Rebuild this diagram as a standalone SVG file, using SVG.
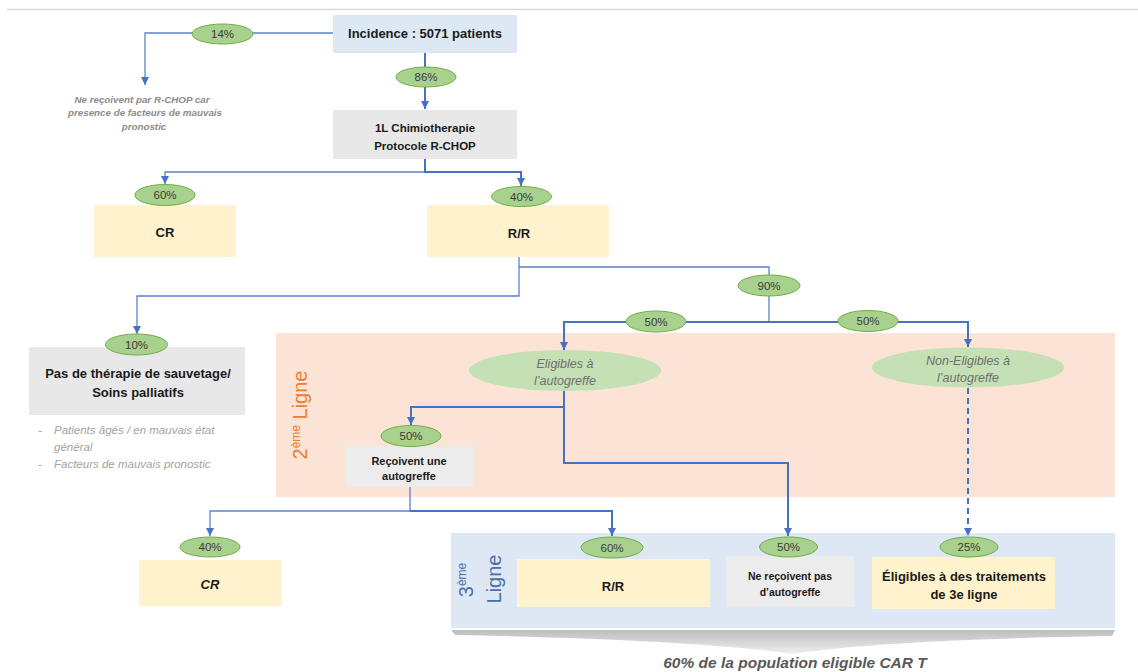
<svg xmlns="http://www.w3.org/2000/svg" width="1138" height="672" viewBox="0 0 1138 672">
<defs>
<style>
text{font-family:"Liberation Sans",Arial,sans-serif;}
.pct{fill:#a9d18e;stroke:#71ad47;stroke-width:1}
.pt{font-size:11.5px;fill:#3a3a3a;text-anchor:middle}
.b{font-weight:bold;fill:#1a1a1a;text-anchor:middle}
.yel{fill:#fff2cc}
.gry{fill:#e8e8e8}
.lg{fill:#c5e0b4}
.it{font-style:italic;fill:#6f6f6f;text-anchor:middle;font-size:12.5px}
.c{fill:none;stroke:#4472c4;stroke-width:2}
.c1{fill:none;stroke:#5b82cc;stroke-width:1.3}
</style>
<marker id="ar" viewBox="0 0 8 8" refX="8" refY="4" markerWidth="8" markerHeight="8" markerUnits="userSpaceOnUse" orient="auto">
<path d="M0,0 L8,4 L0,8 z" fill="#4472c4"/>
</marker>
<linearGradient id="sh" x1="0" y1="0" x2="0" y2="1">
<stop offset="0" stop-color="#bdbdbd"/>
<stop offset="1" stop-color="#efefef"/>
</linearGradient>
</defs>
<rect width="1138" height="672" fill="#ffffff"/>
<line x1="7" y1="9.5" x2="1138" y2="9.5" stroke="#d9d9d9" stroke-width="1.5"/>

<g id="region-2eme">
<rect x="276" y="333" width="839" height="164" fill="#fbe3d5"/>
<text transform="rotate(-90 307 415)" x="307" y="415" font-size="20" fill="#ed7d31" text-anchor="middle">2<tspan font-size="12" dy="-7">ème</tspan><tspan dy="7"> Ligne</tspan></text>
</g>
<g id="region-3eme">
<rect x="451" y="533" width="664" height="95" fill="#dde8f4"/>
<text transform="rotate(-90 473 580)" x="473" y="580" font-size="20" fill="#4a6ea9" text-anchor="middle">3<tspan font-size="12" dy="-7">ème</tspan></text>
<text transform="rotate(-90 501 579)" x="501" y="579" font-size="20" fill="#4a6ea9" text-anchor="middle">Ligne</text>
<path d="M451,630 L1115,630 L1112,636 Q880,640 792,654 Q700,640 455,635 Z" fill="url(#sh)"/>
<text x="795" y="668" font-size="15.5" font-weight="bold" font-style="italic" fill="#595959" text-anchor="middle">60% de la population eligible CAR T</text>
</g>

<g id="connectors">
<path class="c1" d="M333,33 H145 V85" marker-end="url(#ar)"/>
<path class="c" d="M425,53 V109" marker-end="url(#ar)"/>
<path class="c1" d="M425,159 V172 H165 V184" marker-end="url(#ar)"/>
<path class="c" d="M425,159 V172 H521 V186" marker-end="url(#ar)"/>
<path class="c1" d="M519,257 V296 H137 V334" marker-end="url(#ar)"/>
<path class="c1" d="M519,267 H769 V322"/>
<path class="c" d="M769,322 H564 V350" marker-end="url(#ar)"/>
<path class="c" d="M769,322 H968 V347" marker-end="url(#ar)"/>
<path class="c" d="M564,391 V407 H411 V425" marker-end="url(#ar)"/>
<path class="c" d="M564,407 V463 H788 V536" marker-end="url(#ar)"/>
<path class="c1" d="M410,487 V511 H210 V536" marker-end="url(#ar)"/>
<path class="c" d="M410,511 H612 V536" marker-end="url(#ar)"/>
<path class="c" d="M968,388 V536" stroke-dasharray="6,4" marker-end="url(#ar)"/>
</g>

<g id="incidence">
<rect x="333" y="15" width="184" height="38" fill="#dce8f4"/>
<text class="b" x="425" y="38" font-size="13">Incidence : 5071 patients</text>
</g>
<g id="p14">
<ellipse class="pct" cx="222.5" cy="34" rx="30.5" ry="10"/>
<text class="pt" x="222.5" y="38">14%</text>
</g>
<g id="note-no-rchop">
<text x="142" y="102.5" font-size="9.8" font-weight="bold" font-style="italic" fill="#8c8c8c" text-anchor="middle">Ne reçoivent par R-CHOP car</text>
<text x="145" y="116" font-size="9.8" font-weight="bold" font-style="italic" fill="#8c8c8c" text-anchor="middle">presence de facteurs de mauvais</text>
<text x="144" y="129.5" font-size="9.8" font-weight="bold" font-style="italic" fill="#8c8c8c" text-anchor="middle">pronostic</text>
</g>
<g id="p86">
<ellipse class="pct" cx="426" cy="77" rx="30" ry="10"/>
<text class="pt" x="426" y="81">86%</text>
</g>
<g id="chimio">
<rect class="gry" x="333" y="110" width="184" height="49"/>
<text class="b" x="425" y="132" font-size="11.5">1L Chimiotherapie</text>
<text class="b" x="425" y="150" font-size="11.5">Protocole R-CHOP</text>
</g>
<g id="cr1">
<rect class="yel" x="94" y="205" width="142" height="52"/>
<text class="b" x="165" y="236.5" font-size="13">CR</text>
</g>
<g id="p60a">
<ellipse class="pct" cx="165" cy="195" rx="30" ry="10.5"/>
<text class="pt" x="165" y="199">60%</text>
</g>
<g id="rr1">
<rect class="yel" x="427" y="205" width="182" height="52"/>
<text class="b" x="519" y="237.5" font-size="13">R/R</text>
</g>
<g id="p40a">
<ellipse class="pct" cx="521.5" cy="196.5" rx="30" ry="10"/>
<text class="pt" x="521.5" y="200.5">40%</text>
</g>
<g id="p90">
<ellipse class="pct" cx="769" cy="285.5" rx="31" ry="10.5"/>
<text class="pt" x="769" y="289.5">90%</text>
</g>
<g id="p50l">
<ellipse class="pct" cx="656" cy="321.5" rx="30" ry="10.5"/>
<text class="pt" x="656" y="325.5">50%</text>
</g>
<g id="p50r">
<ellipse class="pct" cx="868" cy="321" rx="30" ry="10.5"/>
<text class="pt" x="868" y="325">50%</text>
</g>
<g id="palliatif">
<rect class="gry" x="29" y="347" width="216" height="68"/>
<text class="b" x="138" y="377.5" font-size="13">Pas de thérapie de sauvetage/</text>
<text class="b" x="138" y="396.5" font-size="13">Soins palliatifs</text>
</g>
<g id="p10">
<ellipse class="pct" cx="136.5" cy="344.5" rx="31" ry="10.5"/>
<text class="pt" x="136.5" y="348.5">10%</text>
</g>
<g id="palliatif-notes">
<text x="38" y="434" font-size="11.5" font-style="italic" fill="#a3a3a3">-</text>
<text x="54" y="434" font-size="11.5" font-style="italic" fill="#a3a3a3">Patients âgés / en mauvais état</text>
<text x="54" y="451" font-size="11.5" font-style="italic" fill="#a3a3a3">général</text>
<text x="38" y="468" font-size="11.5" font-style="italic" fill="#a3a3a3">-</text>
<text x="54" y="468" font-size="11.5" font-style="italic" fill="#a3a3a3">Facteurs de mauvais pronostic</text>
</g>
<g id="eligibles">
<ellipse class="lg" cx="565" cy="370.5" rx="96" ry="20.5"/>
<text class="it" x="565" y="367.5">Eligibles à</text>
<text class="it" x="565" y="384.5">l’autogreffe</text>
</g>
<g id="non-eligibles">
<ellipse class="lg" cx="968" cy="367.5" rx="96" ry="20"/>
<text class="it" x="968" y="364.5">Non-Eligibles à</text>
<text class="it" x="968" y="381.5">l’autogreffe</text>
</g>
<g id="autogreffe">
<rect fill="#ececec" x="345" y="446" width="128" height="41"/>
<text class="b" x="409" y="465" font-size="11">Reçoivent une</text>
<text class="b" x="409" y="480" font-size="11">autogreffe</text>
</g>
<g id="p50a">
<ellipse class="pct" cx="411" cy="436" rx="30" ry="10.5"/>
<text class="pt" x="411" y="440">50%</text>
</g>
<g id="cr2">
<rect class="yel" x="139" y="560" width="143" height="46"/>
<text class="b" x="210" y="588.5" font-size="13" font-style="italic">CR</text>
</g>
<g id="p40b">
<ellipse class="pct" cx="210" cy="547" rx="30" ry="10"/>
<text class="pt" x="210" y="551">40%</text>
</g>
<g id="rr2">
<rect class="yel" x="517" y="559" width="193" height="48"/>
<text class="b" x="613" y="591" font-size="13">R/R</text>
</g>
<g id="p60b">
<ellipse class="pct" cx="612" cy="547.5" rx="31" ry="10.5"/>
<text class="pt" x="612" y="551.5">60%</text>
</g>
<g id="no-autogreffe">
<rect fill="#ececec" x="726" y="556" width="128" height="51"/>
<text class="b" x="790" y="580" font-size="10.5">Ne reçoivent pas</text>
<text class="b" x="790" y="596" font-size="10.5">d’autogreffe</text>
</g>
<g id="p50b">
<ellipse class="pct" cx="788.5" cy="547" rx="29" ry="10"/>
<text class="pt" x="788.5" y="551">50%</text>
</g>
<g id="eligibles-3l">
<rect class="yel" x="872" y="557" width="183" height="52"/>
<text class="b" x="964" y="580.5" font-size="13">Éligibles à des traitements</text>
<text class="b" x="964" y="598.5" font-size="13">de 3e ligne</text>
</g>
<g id="p25">
<ellipse class="pct" cx="969" cy="547" rx="29" ry="10"/>
<text class="pt" x="969" y="551">25%</text>
</g>
</svg>
